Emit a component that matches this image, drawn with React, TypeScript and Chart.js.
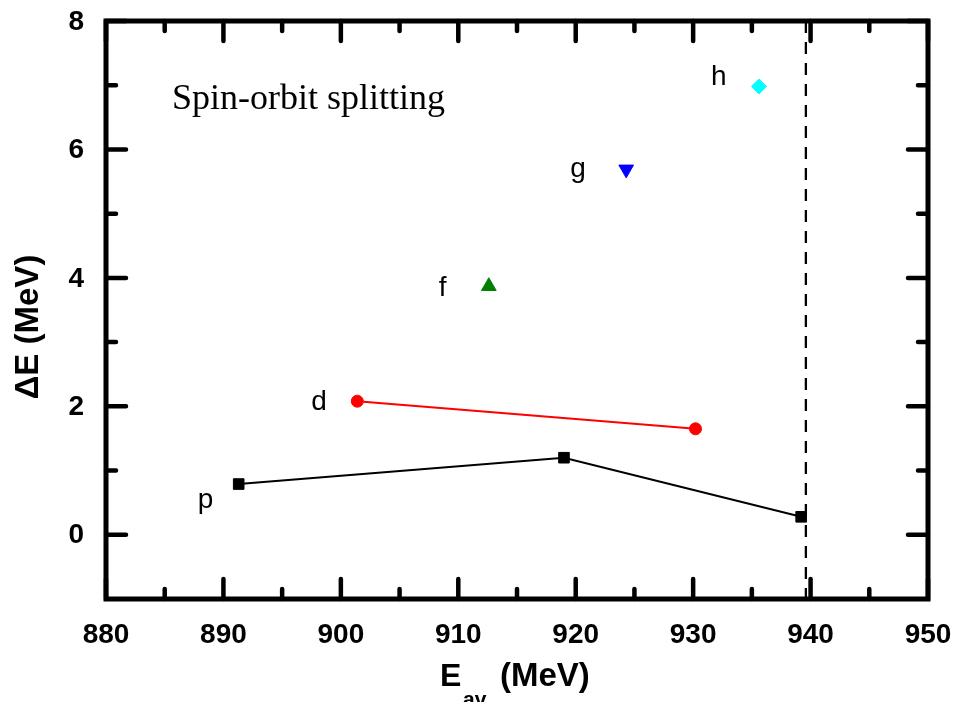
import { useEffect, useRef } from "react";
import { Chart, registerables } from "chart.js";

Chart.register(...registerables);

// Average energy (MeV) and spin-orbit splitting ΔE (MeV) of each partial wave
const pEav = [891.3, 919.0, 939.2];
const pSplit = [0.79, 1.2, 0.28];
const dEav = [901.4, 930.2];
const dSplit = [2.08, 1.65];
const fEav = [912.6];
const fSplit = [3.87];
const gEav = [924.3];
const gSplit = [5.69];
const hEav = [935.6];
const hSplit = [6.98];

// Nucleon mass threshold (MeV)
const thresholdEav = 939.6;

const xMajorTicks = [880, 890, 900, 910, 920, 930, 940, 950];
const xMinorTicks = [885, 895, 905, 915, 925, 935, 945];
const yMajorTicks = [0, 2, 4, 6, 8];
const yMinorTicks = [1, 3, 5, 7];

const SANS = "Arial, 'Liberation Sans', sans-serif";
const SERIF = "'Times New Roman', 'Liberation Serif', serif";

const toPoints = (xs: number[], ys: number[]) => xs.map((x, i) => ({ x, y: ys[i] }));

// Wave labels, placed relative to the first point of each series (px offsets)
const waveLabels = [
  { text: "p", ds: 0, dx: -41, dy: 24 },
  { text: "d", ds: 1, dx: -46, dy: 9 },
  { text: "f", ds: 2, dx: -50, dy: 10 },
  { text: "g", ds: 3, dx: -56, dy: 8 },
  { text: "h", ds: 4, dx: -48, dy: -2 },
];

const framePlugin = {
  id: "frame",
  beforeDatasetsDraw(chart: any) {
    const { ctx, chartArea: a, scales } = chart;
    const xp = scales.x.getPixelForValue(thresholdEav);
    ctx.save();
    ctx.strokeStyle = "#000";
    ctx.lineWidth = 2.3;
    ctx.setLineDash([12, 9]);
    ctx.beginPath();
    ctx.moveTo(xp, a.top);
    ctx.lineTo(xp, a.bottom);
    ctx.stroke();
    ctx.restore();
  },
  afterDraw(chart: any) {
    const { ctx, chartArea: a, scales } = chart;
    const xs = scales.x;
    const ys = scales.y;
    ctx.save();
    ctx.strokeStyle = "#000";
    ctx.lineCap = "round";
    ctx.lineWidth = 4.5;
    const major = 20;
    const minor = 10;
    const tickX = (v: number, len: number) => {
      const px = xs.getPixelForValue(v);
      ctx.beginPath();
      ctx.moveTo(px, a.bottom);
      ctx.lineTo(px, a.bottom - len);
      ctx.moveTo(px, a.top);
      ctx.lineTo(px, a.top + len);
      ctx.stroke();
    };
    const tickY = (v: number, len: number) => {
      const py = ys.getPixelForValue(v);
      ctx.beginPath();
      ctx.moveTo(a.left, py);
      ctx.lineTo(a.left + len, py);
      ctx.moveTo(a.right, py);
      ctx.lineTo(a.right - len, py);
      ctx.stroke();
    };
    xMajorTicks.forEach((v) => tickX(v, major));
    xMinorTicks.forEach((v) => tickX(v, minor));
    yMajorTicks.forEach((v) => tickY(v, major));
    yMinorTicks.forEach((v) => tickY(v, minor));

    ctx.lineCap = "square";
    ctx.lineJoin = "miter";
    ctx.lineWidth = 5;
    ctx.strokeRect(a.left, a.top, a.right - a.left, a.bottom - a.top);

    // tick labels
    ctx.fillStyle = "#000";
    ctx.font = `bold 28px ${SANS}`;
    ctx.textBaseline = "middle";
    ctx.textAlign = "center";
    xMajorTicks.forEach((v) => ctx.fillText(String(v), xs.getPixelForValue(v), a.bottom + 36));
    ctx.textAlign = "right";
    yMajorTicks.forEach((v) => ctx.fillText(String(v), a.left - 22, ys.getPixelForValue(v) + 1));

    // wave labels
    ctx.font = `28px ${SANS}`;
    ctx.textAlign = "left";
    ctx.textBaseline = "alphabetic";
    waveLabels.forEach((l) => {
      const el = chart.getDatasetMeta(l.ds).data[0];
      ctx.fillText(l.text, el.x + l.dx, el.y + l.dy);
    });

    // annotation
    ctx.font = `36px ${SERIF}`;
    ctx.fillText("Spin-orbit splitting", 172, 109);

    // x axis title with subscript
    const cx = (a.left + a.right) / 2;
    ctx.font = `bold 32px ${SANS}`;
    ctx.fillText("E", cx - 77, 686);
    ctx.font = `bold 21px ${SANS}`;
    ctx.fillText("av", cx - 54, 706);
    ctx.font = `bold 33px ${SANS}`;
    ctx.fillText("(MeV)", cx - 17, 686);

    // y axis title
    ctx.translate(38, 327);
    ctx.rotate(-Math.PI / 2);
    ctx.textAlign = "center";
    ctx.font = `bold 33px ${SANS}`;
    ctx.fillText("ΔE (MeV)", 0, 0);
    ctx.restore();
  },
};

export default function App() {
  const ref = useRef<HTMLCanvasElement | null>(null);

  useEffect(() => {
    if (!ref.current) return;
    const chart = new Chart(ref.current, {
      type: "scatter",
      data: {
        datasets: [
          {
            label: "p",
            data: toPoints(pEav, pSplit),
            showLine: true,
            borderColor: "#000",
            backgroundColor: "#000",
            borderWidth: 2,
            pointStyle: "rect",
            pointRadius: 7.5,
            pointBorderWidth: 1,
          },
          {
            label: "d",
            data: toPoints(dEav, dSplit),
            showLine: true,
            borderColor: "#ff0000",
            backgroundColor: "#ff0000",
            borderWidth: 2,
            pointStyle: "circle",
            pointRadius: 6,
            pointBorderWidth: 1,
          },
          {
            label: "f",
            data: toPoints(fEav, fSplit),
            borderColor: "#008000",
            backgroundColor: "#008000",
            pointStyle: "triangle",
            pointRadius: 8.5,
            pointBorderWidth: 1,
          },
          {
            label: "g",
            data: toPoints(gEav, gSplit),
            borderColor: "#0000ff",
            backgroundColor: "#0000ff",
            pointStyle: "triangle",
            rotation: 180,
            pointRotation: 180,
            pointRadius: 8.5,
            pointBorderWidth: 1,
          },
          {
            label: "h",
            data: toPoints(hEav, hSplit),
            borderColor: "#00ffff",
            backgroundColor: "#00ffff",
            pointStyle: "rectRot",
            pointRadius: 7.5,
            pointBorderWidth: 1,
          },
        ],
      },
      options: {
        responsive: false,
        animation: false,
        layout: { padding: { top: 21, right: 27, left: 0, bottom: 0 } },
        plugins: {
          legend: { display: false },
          tooltip: { enabled: false },
        },
        scales: {
          x: {
            type: "linear",
            min: 880,
            max: 950,
            grid: { display: false, drawTicks: false, tickLength: 0 },
            border: { display: false },
            ticks: { display: false },
            afterFit: (s: any) => {
              s.height = 103;
            },
          },
          y: {
            type: "linear",
            min: -1,
            max: 8,
            grid: { display: false, drawTicks: false, tickLength: 0 },
            border: { display: false },
            ticks: { display: false },
            afterFit: (s: any) => {
              s.width = 106;
            },
          },
        },
      },
      plugins: [framePlugin],
    });
    return () => chart.destroy();
  }, []);

  return (
    <div style={{ position: "fixed", left: 0, top: 0, width: 955, height: 702, background: "#fff" }}>
      <canvas ref={ref} width={955} height={702} />
    </div>
  );
}
